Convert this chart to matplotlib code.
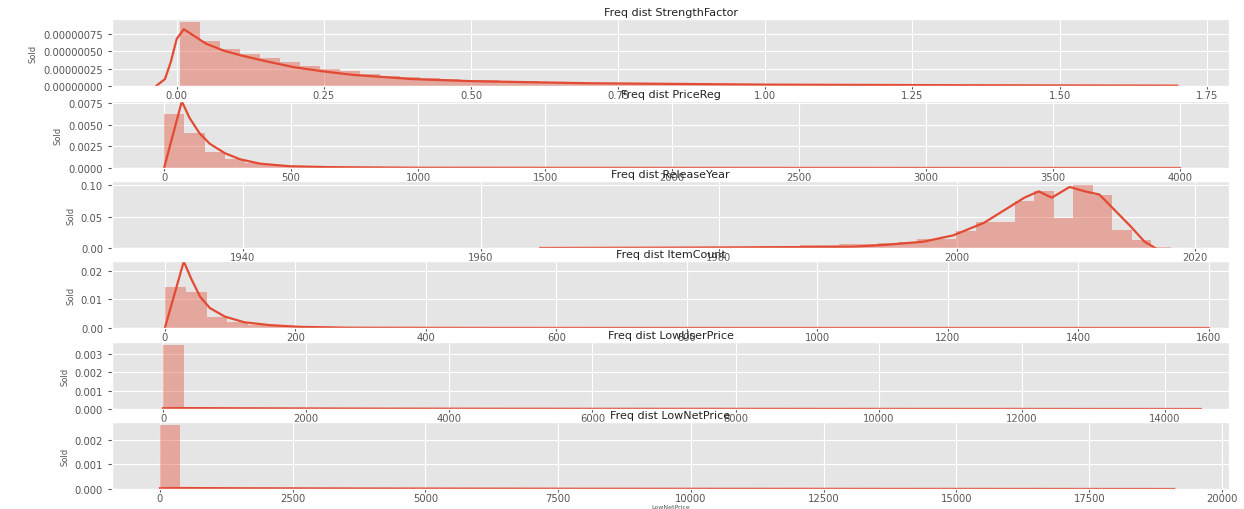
import numpy as np
import matplotlib
matplotlib.use("Agg")
import matplotlib.pyplot as plt
from matplotlib.ticker import FormatStrFormatter, MultipleLocator

plt.style.use("ggplot")

# column names, in plotting order
columns = ["StrengthFactor", "PriceReg", "ReleaseYear", "ItemCount",
           "LowUserPrice", "LowNetPrice"]

# histogram: first bin edge, bin width, bar heights (density)
sf_lo, sf_w = 0.006, 0.0339
sf_hist = [0.92e-6, 0.655e-6, 0.535e-6, 0.46e-6, 0.40e-6, 0.34e-6, 0.29e-6,
           0.245e-6, 0.21e-6, 0.17e-6, 0.15e-6, 0.125e-6, 0.11e-6, 0.10e-6,
           0.09e-6, 0.08e-6, 0.072e-6, 0.065e-6, 0.058e-6, 0.052e-6, 0.047e-6,
           0.043e-6, 0.040e-6, 0.037e-6, 0.034e-6, 0.031e-6, 0.029e-6,
           0.027e-6, 0.025e-6, 0.023e-6, 0.021e-6, 0.020e-6, 0.019e-6,
           0.018e-6, 0.017e-6, 0.016e-6, 0.015e-6, 0.014e-6, 0.013e-6,
           0.012e-6, 0.012e-6, 0.011e-6, 0.010e-6, 0.010e-6, 0.009e-6,
           0.009e-6, 0.008e-6, 0.008e-6, 0.007e-6, 0.007e-6]
sf_kde_x = [-0.035, -0.02, -0.01, 0.0, 0.012, 0.03, 0.05, 0.08, 0.11, 0.15,
            0.2, 0.25, 0.3, 0.4, 0.5, 0.7, 1.0, 1.3, 1.7]
sf_kde_y = [0.0, 0.1e-6, 0.35e-6, 0.68e-6, 0.82e-6, 0.72e-6, 0.61e-6,
            0.51e-6, 0.44e-6, 0.36e-6, 0.27e-6, 0.21e-6, 0.16e-6, 0.10e-6,
            0.07e-6, 0.04e-6, 0.02e-6, 0.012e-6, 0.005e-6]

pr_lo, pr_w = 0.0, 80.0
pr_hist = [0.0062, 0.0040, 0.0019, 0.0010, 0.0006, 0.0003, 0.0002, 0.00012,
           0.00008, 0.00005, 0.00003, 0.00002]
pr_kde_x = [0, 70, 100, 140, 180, 240, 300, 378, 496, 650, 1000, 2000, 4000]
pr_kde_y = [0.0, 0.0077, 0.0058, 0.0040, 0.0028, 0.0017, 0.0010, 0.0005,
            0.0002, 0.0001, 0.00003, 0.00001, 0.0]

ry_lo, ry_w = 1936.0, 1.64
ry_hist = [0.0005, 0.0, 0.0, 0.0, 0.0, 0.0, 0.0, 0.0, 0.0, 0.0,
           0.0005, 0.0, 0.0, 0.0, 0.0, 0.0, 0.0, 0.0, 0.0005, 0.0,
           0.0005, 0.0, 0.0005, 0.001, 0.001, 0.001, 0.0015, 0.002, 0.002,
           0.003, 0.003, 0.004, 0.005, 0.006, 0.007, 0.008, 0.009, 0.0145,
           0.0145, 0.027, 0.041, 0.041, 0.075, 0.090, 0.047, 0.100, 0.085,
           0.028, 0.012, 0.002]
ry_kde_x = [1965, 1975, 1982, 1988, 1991.3, 1994, 1997.2, 1999.7, 2002.3,
            2004, 2005.7, 2006.9, 2008, 2009.5, 2010.8, 2012, 2013.3, 2014.6,
            2015.8, 2016.7]
ry_kde_y = [0.0, 0.0005, 0.001, 0.0015, 0.002, 0.005, 0.010, 0.020, 0.040,
            0.060, 0.080, 0.090, 0.080, 0.097, 0.090, 0.085, 0.060, 0.035,
            0.010, 0.0]

ic_lo, ic_w = 0.0, 32.0
ic_hist = [0.0144, 0.0126, 0.0040, 0.0020, 0.0010, 0.0006, 0.0004, 0.00025,
           0.00015, 0.0001, 0.00006, 0.00004]
ic_kde_x = [0, 29, 41, 54, 69, 92, 122, 161, 207, 283, 500, 1000, 1600]
ic_kde_y = [0.0, 0.0233, 0.017, 0.011, 0.007, 0.004, 0.002, 0.001, 0.0004,
            0.0001, 0.00002, 0.00001, 0.0]

lu_lo, lu_w = 0.0, 290.0
lu_hist = [0.0035, 0.00002, 0.00001]
lu_kde_x = [0, 300, 1000, 3000, 6000, 10000, 14500]
lu_kde_y = [0.00004, 0.00005, 0.00004, 0.00002, 0.00001, 0.000005, 0.0]

ln_lo, ln_w = 0.0, 382.0
ln_hist = [0.0026, 0.00002, 0.00001]
ln_kde_x = [0, 400, 1500, 4000, 8000, 13000, 19100]
ln_kde_y = [0.00003, 0.00004, 0.00003, 0.00002, 0.00001, 0.000005, 0.0]

panels = [
    (sf_lo, sf_w, sf_hist, sf_kde_x, sf_kde_y),
    (pr_lo, pr_w, pr_hist, pr_kde_x, pr_kde_y),
    (ry_lo, ry_w, ry_hist, ry_kde_x, ry_kde_y),
    (ic_lo, ic_w, ic_hist, ic_kde_x, ic_kde_y),
    (lu_lo, lu_w, lu_hist, lu_kde_x, lu_kde_y),
    (ln_lo, ln_w, ln_hist, ln_kde_x, ln_kde_y),
]

# axis setup per panel
xlims = [(-0.110, 1.788), (-205, 4193), (1929.0, 2022.9), (-81, 1631),
         (-713, 14894), (-902, 20132)]
xsteps = [0.25, 500, 20, 200, 2000, 2500]
ytops = [0.967e-6, 0.00774, 0.1065, 0.0235, 0.00367, 0.00273]
ysteps = [0.25e-6, 0.0025, 0.05, 0.01, 0.001, 0.001]
yfmts = ["%.8f", "%.4f", "%.2f", "%.2f", "%.3f", "%.3f"]

W, H = 1244, 510
fig = plt.figure(figsize=(W / 100, H / 100), dpi=100)
tops = [20, 102, 182, 262, 343, 423]
ph = 67
left, right = 112, 1229

c0 = "#E24A33"
for i, col in enumerate(columns):
    ax = fig.add_axes([left / W, 1 - (tops[i] + ph) / H,
                       (right - left) / W, ph / H])
    lo, w, hist, kx, ky = panels[i]
    edges = lo + w * np.arange(len(hist) + 1)
    ax.stairs(hist, edges, fill=True, color=c0, alpha=0.4, linewidth=0)
    ax.plot(kx, ky, color=c0, linewidth=1.6)
    ax.set_xlim(*xlims[i])
    ax.set_ylim(0, ytops[i])
    ax.xaxis.set_major_locator(MultipleLocator(xsteps[i]))
    ax.yaxis.set_major_locator(MultipleLocator(ysteps[i]))
    ax.yaxis.set_major_formatter(FormatStrFormatter(yfmts[i]))
    ax.tick_params(labelsize=7.2, colors="#555555")
    ax.tick_params(axis="x", length=2, pad=1)
    ax.tick_params(axis="y", length=3, pad=3.5)
    ax.set_title("Freq dist " + col, fontsize=8, pad=3, color="#222222")
    ax.set_ylabel("Sold", fontsize=6, color="#555555", labelpad=4)
    ax.set_xlabel(col, fontsize=4.5, color="#555555", labelpad=0.5)

fig.savefig("out.png", dpi=100)
